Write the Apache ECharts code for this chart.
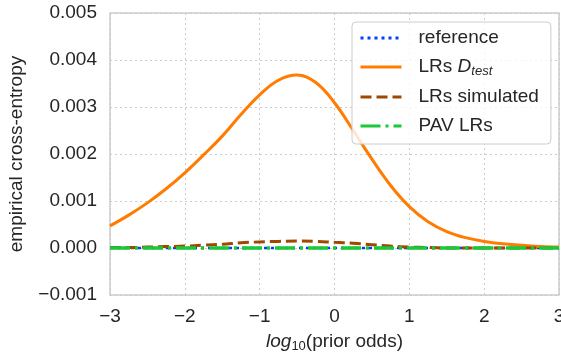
<!DOCTYPE html>
<html>
<head>
<meta charset="utf-8">
<script src="https://cdn.jsdelivr.net/npm/echarts@6/dist/echarts.min.js"></script>
<style>
  html, body { margin: 0; padding: 0; background: #fff; }
  #chart { width: 561px; height: 358px; }
</style>
</head>
<body>
<div id="chart"></div>
<script>
// x positions: log10(prior odds)
const logOdds = [-3, -2.75, -2.5, -2.25, -2, -1.75, -1.5, -1.25, -1, -0.75, -0.5, -0.25,
  0, 0.25, 0.5, 0.75, 1, 1.25, 1.5, 1.75, 2, 2.25, 2.5, 2.75, 3];

const reference = [0, 0, 0, 0, 0, 0, 0, 0, 0, 0, 0, 0, 0, 0, 0, 0, 0, 0, 0, 0, 0, 0, 0, 0, 0];
const lrsTest = [0.00047, 0.00070, 0.00096, 0.00126, 0.00160, 0.00198, 0.00238, 0.00284,
  0.00326, 0.00357, 0.00368, 0.00352, 0.00309, 0.00250, 0.00189, 0.00133, 0.00088,
  0.00056, 0.00035, 0.00022, 0.00014, 0.00009, 0.00006, 0.00003, 0.00002];
const lrsSimulated = [0.00001, 0.00001, 0.00002, 0.00003, 0.00004, 0.00006, 0.00008, 0.00011,
  0.00013, 0.00014, 0.00015, 0.00014, 0.00012, 0.00010, 0.00007, 0.00004, 0.00002,
  0.00001, 0, 0, 0, 0, 0, 0, 0];
const pavLRs = [0, 0, 0, 0, 0, 0, 0, 0, 0, 0, 0, 0, 0, 0, 0, 0, 0, 0, 0, 0, 0, 0, 0, 0, 0];

const seriesNames = ["reference", "LRs Dtest", "LRs simulated", "PAV LRs"];

const pairs = (ys) => logOdds.map((x, i) => [x, ys[i]]);
const minus = (s) => String(s).replace("-", "\u2212");

const font = "'Liberation Sans', Arial, sans-serif";
const textColor = "#262626";

const option = {
  animation: false,
  textStyle: { fontFamily: font },
  grid: {
    left: 110, right: 2, top: 13, bottom: 63,
    outerBoundsMode: "none", containLabel: false,
    show: true, borderColor: "#cccccc", borderWidth: 1.5, backgroundColor: "#fff"
  },
  xAxis: {
    type: "value", min: -3, max: 3, interval: 1,
    name: "{i|log}{s|10}(prior odds)",
    nameLocation: "middle", nameGap: 36,
    nameTextStyle: {
      color: textColor, fontSize: 19, fontFamily: font,
      rich: {
        i: { fontStyle: "italic", fontSize: 19, color: textColor, fontFamily: font },
        s: { fontStyle: "normal", fontSize: 13, color: textColor, fontFamily: font, padding: [9, 0, 0, 0] }
      }
    },
    axisLine: { show: false },
    axisTick: { show: false },
    splitLine: { lineStyle: { color: "#cccccc", type: [2, 3], width: 1 } },
    axisLabel: { color: textColor, fontSize: 19, margin: 12, formatter: (v) => minus(v) }
  },
  yAxis: {
    type: "value", min: -0.001, max: 0.005, interval: 0.001,
    name: "empirical cross-entropy",
    nameLocation: "middle", nameGap: 84, nameRotate: 90,
    nameTextStyle: { color: textColor, fontSize: 19, fontFamily: font },
    axisLine: { show: false },
    axisTick: { show: false },
    splitLine: { lineStyle: { color: "#cccccc", type: [2, 3], width: 1 } },
    axisLabel: { color: textColor, fontSize: 19, margin: 13, formatter: (v) => minus(v.toFixed(3)) }
  },
  legend: {
    orient: "vertical",
    left: 352, top: 22,
    itemWidth: 41, itemHeight: 12, itemGap: 9,
    padding: [6, 12, 8, 7],
    backgroundColor: "rgba(255,255,255,0.8)",
    borderColor: "#cccccc", borderWidth: 1, borderRadius: 4,
    itemStyle: { opacity: 0 },
    lineStyle: { width: 3 },
    data: seriesNames,
    formatter: (name) => name === "LRs Dtest" ? "LRs {d|D}{t|test}" : name,
    textStyle: {
      color: textColor, fontSize: 19, fontFamily: font, padding: [0, 0, 0, 12], lineHeight: 20,
      rich: {
        d: { fontStyle: "italic", fontSize: 19, color: textColor, fontFamily: font },
        t: { fontStyle: "italic", fontSize: 13, color: textColor, fontFamily: font, padding: [9, 0, 0, 0] }
      }
    }
  },
  series: [
    {
      name: seriesNames[0], type: "line", data: pairs(reference), symbol: "none",
      lineStyle: { color: "#023eff", width: 2.5, type: [3, 4] }, itemStyle: { color: "#023eff" }, z: 2
    },
    {
      name: seriesNames[1], type: "line", data: pairs(lrsTest), smooth: 0.4, symbol: "none",
      lineStyle: { color: "#ff7c00", width: 3, type: "solid" }, itemStyle: { color: "#ff7c00" }, z: 3
    },
    {
      name: seriesNames[2], type: "line", data: pairs(lrsSimulated), smooth: 0.4, symbol: "none",
      lineStyle: { color: "#9f4800", width: 3, type: [11, 5] }, itemStyle: { color: "#9f4800" }, z: 4
    },
    {
      name: seriesNames[3], type: "line", data: pairs(pavLRs), symbol: "none",
      lineStyle: { color: "#1ac938", width: 3.5, type: [20, 5, 3, 5] }, itemStyle: { color: "#1ac938" }, z: 5
    }
  ]
};

const chart = echarts.init(document.getElementById("chart"), null, { renderer: "canvas" });
chart.setOption(option);
</script>
</body>
</html>
